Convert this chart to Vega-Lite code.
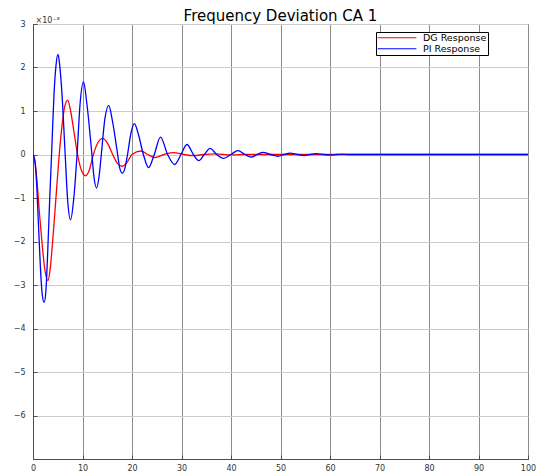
{
  "$schema": "https://vega.github.io/schema/vega-lite/v6.json",
  "width": 495,
  "height": 435,
  "autosize": {"type": "none"},
  "padding": {"left": 33, "top": 24, "right": 16, "bottom": 14},
  "background": "white",
  "title": {"text": "Frequency Deviation CA 1", "font": "DejaVu Sans", "fontSize": 15, "fontWeight": "normal", "color": "#000000", "frame": "group", "anchor": "middle", "offset": -8},
  "config": {
    "view": {"stroke": "#4d4d4d", "strokeWidth": 1},
    "axis": {"labelFont": "DejaVu Sans", "labelFontSize": 8, "labelColor": "#333333", "domainColor": "#4d4d4d", "tickColor": "#4d4d4d", "gridWidth": 1}
  },
  "data": {"values": [
    {"t": 0, "v": 0, "s": "DG Response"},
    {"t": 0.4, "v": -0.15, "s": "DG Response"},
    {"t": 0.8, "v": -0.6, "s": "DG Response"},
    {"t": 1.3, "v": -1.35, "s": "DG Response"},
    {"t": 1.8, "v": -2.0, "s": "DG Response"},
    {"t": 2.4, "v": -2.65, "s": "DG Response"},
    {"t": 3.0, "v": -2.9, "s": "DG Response"},
    {"t": 3.5, "v": -2.6, "s": "DG Response"},
    {"t": 4.0, "v": -1.95, "s": "DG Response"},
    {"t": 4.7, "v": -0.9, "s": "DG Response"},
    {"t": 5.3, "v": 0, "s": "DG Response"},
    {"t": 5.9, "v": 0.7, "s": "DG Response"},
    {"t": 6.4, "v": 1.1, "s": "DG Response"},
    {"t": 7.0, "v": 1.25, "s": "DG Response"},
    {"t": 7.6, "v": 1.0, "s": "DG Response"},
    {"t": 8.3, "v": 0.5, "s": "DG Response"},
    {"t": 9.0, "v": 0, "s": "DG Response"},
    {"t": 9.8, "v": -0.37, "s": "DG Response"},
    {"t": 10.6, "v": -0.49, "s": "DG Response"},
    {"t": 11.4, "v": -0.35, "s": "DG Response"},
    {"t": 12.2, "v": 0, "s": "DG Response"},
    {"t": 13.1, "v": 0.27, "s": "DG Response"},
    {"t": 14.1, "v": 0.37, "s": "DG Response"},
    {"t": 15.1, "v": 0.25, "s": "DG Response"},
    {"t": 16.1, "v": 0, "s": "DG Response"},
    {"t": 17.0, "v": -0.2, "s": "DG Response"},
    {"t": 18.0, "v": -0.27, "s": "DG Response"},
    {"t": 19.0, "v": -0.18, "s": "DG Response"},
    {"t": 20.0, "v": 0, "s": "DG Response"},
    {"t": 21.8, "v": 0.08, "s": "DG Response"},
    {"t": 23.2, "v": 0, "s": "DG Response"},
    {"t": 24.6, "v": -0.07, "s": "DG Response"},
    {"t": 26.5, "v": 0, "s": "DG Response"},
    {"t": 28.4, "v": 0.045, "s": "DG Response"},
    {"t": 30.5, "v": 0, "s": "DG Response"},
    {"t": 32.5, "v": -0.025, "s": "DG Response"},
    {"t": 34.5, "v": 0, "s": "DG Response"},
    {"t": 36.5, "v": 0.015, "s": "DG Response"},
    {"t": 38.5, "v": 0, "s": "DG Response"},
    {"t": 40.5, "v": -0.008, "s": "DG Response"},
    {"t": 42.5, "v": 0, "s": "DG Response"},
    {"t": 100, "v": 0, "s": "DG Response"},
    {"t": 0, "v": 0, "s": "PI Response"},
    {"t": 0.3, "v": -0.1, "s": "PI Response"},
    {"t": 0.7, "v": -0.6, "s": "PI Response"},
    {"t": 1.1, "v": -1.6, "s": "PI Response"},
    {"t": 1.5, "v": -2.6, "s": "PI Response"},
    {"t": 1.85, "v": -3.2, "s": "PI Response"},
    {"t": 2.25, "v": -3.4, "s": "PI Response"},
    {"t": 2.6, "v": -3.15, "s": "PI Response"},
    {"t": 2.95, "v": -2.3, "s": "PI Response"},
    {"t": 3.35, "v": -1.1, "s": "PI Response"},
    {"t": 3.75, "v": 0, "s": "PI Response"},
    {"t": 4.25, "v": 1.4, "s": "PI Response"},
    {"t": 4.65, "v": 2.05, "s": "PI Response"},
    {"t": 5.05, "v": 2.3, "s": "PI Response"},
    {"t": 5.4, "v": 2.05, "s": "PI Response"},
    {"t": 5.85, "v": 1.4, "s": "PI Response"},
    {"t": 6.5, "v": 0, "s": "PI Response"},
    {"t": 7.0, "v": -1.05, "s": "PI Response"},
    {"t": 7.6, "v": -1.5, "s": "PI Response"},
    {"t": 8.2, "v": -1.05, "s": "PI Response"},
    {"t": 8.9, "v": 0, "s": "PI Response"},
    {"t": 9.5, "v": 1.15, "s": "PI Response"},
    {"t": 10.2, "v": 1.67, "s": "PI Response"},
    {"t": 10.9, "v": 1.15, "s": "PI Response"},
    {"t": 11.9, "v": 0, "s": "PI Response"},
    {"t": 12.3, "v": -0.5, "s": "PI Response"},
    {"t": 12.85, "v": -0.77, "s": "PI Response"},
    {"t": 13.35, "v": -0.5, "s": "PI Response"},
    {"t": 13.8, "v": 0, "s": "PI Response"},
    {"t": 14.5, "v": 0.8, "s": "PI Response"},
    {"t": 15.3, "v": 1.13, "s": "PI Response"},
    {"t": 16.0, "v": 0.8, "s": "PI Response"},
    {"t": 17.1, "v": 0, "s": "PI Response"},
    {"t": 17.5, "v": -0.3, "s": "PI Response"},
    {"t": 18.05, "v": -0.43, "s": "PI Response"},
    {"t": 18.6, "v": -0.3, "s": "PI Response"},
    {"t": 19.1, "v": 0, "s": "PI Response"},
    {"t": 19.8, "v": 0.5, "s": "PI Response"},
    {"t": 20.5, "v": 0.71, "s": "PI Response"},
    {"t": 21.2, "v": 0.5, "s": "PI Response"},
    {"t": 22.3, "v": 0, "s": "PI Response"},
    {"t": 23.35, "v": -0.3, "s": "PI Response"},
    {"t": 24.5, "v": 0, "s": "PI Response"},
    {"t": 25.75, "v": 0.4, "s": "PI Response"},
    {"t": 27.2, "v": 0, "s": "PI Response"},
    {"t": 28.6, "v": -0.23, "s": "PI Response"},
    {"t": 29.9, "v": 0, "s": "PI Response"},
    {"t": 31.1, "v": 0.23, "s": "PI Response"},
    {"t": 32.4, "v": 0, "s": "PI Response"},
    {"t": 33.5, "v": -0.14, "s": "PI Response"},
    {"t": 34.6, "v": 0, "s": "PI Response"},
    {"t": 35.8, "v": 0.14, "s": "PI Response"},
    {"t": 37.1, "v": 0, "s": "PI Response"},
    {"t": 38.5, "v": -0.09, "s": "PI Response"},
    {"t": 40.0, "v": 0, "s": "PI Response"},
    {"t": 41.4, "v": 0.09, "s": "PI Response"},
    {"t": 42.8, "v": 0, "s": "PI Response"},
    {"t": 44.1, "v": -0.06, "s": "PI Response"},
    {"t": 45.3, "v": 0, "s": "PI Response"},
    {"t": 46.5, "v": 0.05, "s": "PI Response"},
    {"t": 48.0, "v": 0, "s": "PI Response"},
    {"t": 49.5, "v": -0.04, "s": "PI Response"},
    {"t": 50.7, "v": 0, "s": "PI Response"},
    {"t": 51.9, "v": 0.03, "s": "PI Response"},
    {"t": 53.4, "v": 0, "s": "PI Response"},
    {"t": 54.8, "v": -0.025, "s": "PI Response"},
    {"t": 56.0, "v": 0, "s": "PI Response"},
    {"t": 57.2, "v": 0.02, "s": "PI Response"},
    {"t": 58.7, "v": 0, "s": "PI Response"},
    {"t": 60.0, "v": -0.015, "s": "PI Response"},
    {"t": 61.3, "v": 0, "s": "PI Response"},
    {"t": 62.5, "v": 0.01, "s": "PI Response"},
    {"t": 64.0, "v": 0, "s": "PI Response"},
    {"t": 100, "v": 0, "s": "PI Response"}
  ]},
  "mark": {"type": "line", "interpolate": "monotone", "strokeWidth": 1.3, "clip": true},
  "encoding": {
    "x": {"field": "t", "type": "quantitative",
      "scale": {"domain": [0, 100], "nice": false, "zero": false},
      "axis": {"title": null, "values": [0, 10, 20, 30, 40, 50, 60, 70, 80, 90, 100], "gridColor": "#8c8c8c", "tickSize": -4, "labelPadding": 9, "labelFlush": false}},
    "y": {"field": "v", "type": "quantitative",
      "scale": {"domain": [-7, 3], "nice": false, "zero": false},
      "axis": {"title": "×10⁻³", "titleAngle": 0, "titleAlign": "left", "titleBaseline": "alphabetic", "titleX": 2, "titleY": -2, "titleFont": "DejaVu Sans", "titleFontSize": 8, "titleFontWeight": "normal", "titleColor": "#333333",
        "values": [-6, -5, -4, -3, -2, -1, 0, 1, 2, 3], "gridColor": "#cccccc", "tickSize": -4, "labelPadding": 12}},
    "color": {"field": "s", "type": "nominal",
      "scale": {"domain": ["DG Response", "PI Response"], "range": ["#ff0000", "#0000ff"]},
      "legend": {"title": null, "orient": "none", "legendX": 343, "legendY": 8, "strokeColor": "#000000", "fillColor": "#ffffff", "padding": 1, "rowPadding": 0, "clipHeight": 9.5, "symbolType": "stroke", "symbolSize": 1500, "symbolStrokeWidth": 1, "labelFont": "DejaVu Sans", "labelFontSize": 9.5, "labelColor": "#000000", "labelOffset": 6}}
  }
}
